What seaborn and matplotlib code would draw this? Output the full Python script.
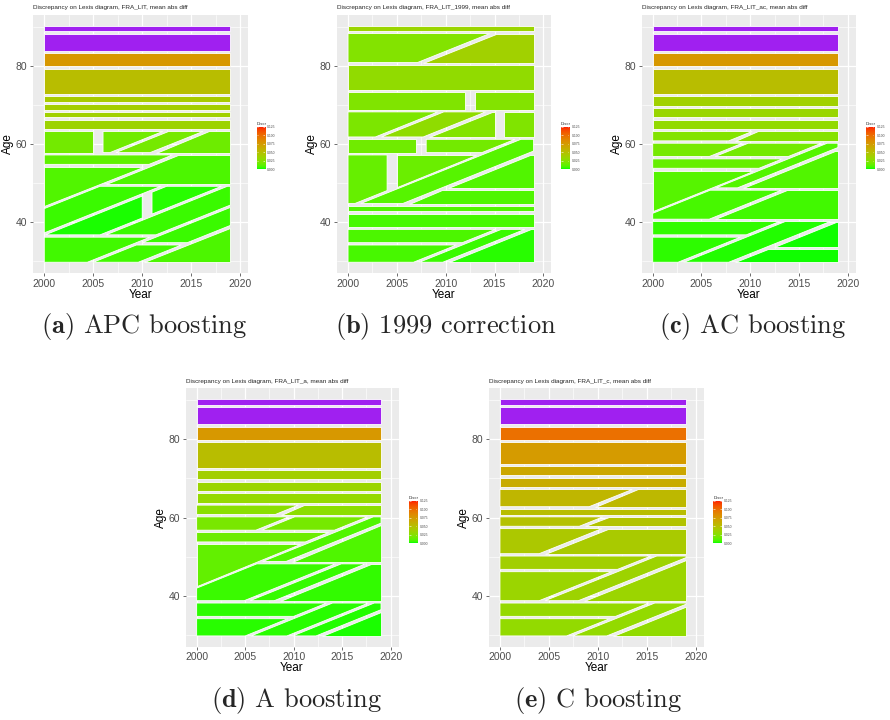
import numpy as np
import seaborn as sns
import matplotlib.pyplot as plt
from matplotlib.colors import ListedColormap, to_rgb

# Lexis regions of each model: (age_lo, age_hi, year_lo, year_hi, cohort_lo, cohort_hi, discr)
# ages and years are inclusive integer cells, cohorts are the split lines, None = open
apc = [
    (89, 90, None, None, None, None, 0.20),
    (84, 88, None, None, None, None, 0.16),
    (80, 83, None, None, None, None, 0.075),
    (73, 79, None, None, None, None, 0.050),
    (71, 72, None, None, None, None, 0.040),
    (69, 70, None, None, None, None, 0.038),
    (67, 68, None, None, None, None, 0.036),
    (64, 66, None, None, None, None, 0.034),
    (58, 63, None, 2005, None, None, 0.017),
    (58, 63, 2006, None, None, 1949.2, 0.016),
    (58, 63, 2006, None, 1949.2, 1953.3, 0.018),
    (58, 63, 2006, None, 1953.3, None, 0.015),
    (55, 57, None, None, None, 1956.2, 0.011),
    (30, 54, None, None, None, 1956.2, 0.008),
    (50, 57, None, None, 1956.2, None, 0.007),
    (37, 49, None, None, 1956.2, 1963.0, 0.004),
    (37, 49, None, 2010, 1963.0, 1969.2, 0.001),
    (37, 49, 2011, None, 1963.0, 1969.2, 0.002),
    (37, 49, None, None, 1969.2, 1974.9, 0.004),
    (30, 36, None, None, None, 1974.9, 0.005),
    (35, 49, None, None, 1974.9, 1980.1, 0.004),
    (30, 34, None, None, 1974.9, 1980.1, 0.005),
    (30, 49, None, None, 1980.1, None, 0.007),
]

corr1999 = [
    (89, 90, None, None, None, None, 0.033),
    (81, 88, None, None, None, 1926.6, 0.022),
    (81, 88, None, None, 1926.6, None, 0.036),
    (74, 80, None, None, None, None, 0.028),
    (69, 73, None, 2012, None, None, 0.021),
    (69, 73, 2013, None, None, None, 0.022),
    (62, 68, None, 2015, None, 1941.3, 0.020),
    (62, 68, None, 2015, 1941.3, 1946.2, 0.027),
    (62, 68, None, 2015, 1946.2, None, 0.022),
    (62, 68, 2016, None, None, None, 0.021),
    (58, 61, None, 2007, None, None, 0.016),
    (58, 61, 2008, None, None, 1956.2, 0.017),
    (45, 57, None, 2004, None, 1956.2, 0.013),
    (45, 57, 2005, None, None, 1956.2, 0.014),
    (45, 61, None, None, 1956.2, 1961.1, 0.009),
    (49, 57, None, None, 1961.1, None, 0.008),
    (45, 48, None, None, 1961.1, None, 0.0075),
    (43, 44, None, None, None, None, 0.008),
    (39, 42, None, None, None, None, 0.006),
    (35, 38, None, None, None, 1977.2, 0.007),
    (30, 34, None, None, None, 1977.2, 0.006),
    (30, 38, None, None, 1977.2, 1980.2, 0.004),
    (30, 38, None, None, 1980.2, None, 0.002),
]

ac = [
    (89, 90, None, None, None, None, 0.20),
    (84, 88, None, None, None, None, 0.16),
    (80, 83, None, None, None, None, 0.075),
    (73, 79, None, None, None, None, 0.050),
    (70, 72, None, None, None, None, 0.036),
    (67, 69, None, None, None, None, 0.032),
    (64, 66, None, None, None, None, 0.029),
    (61, 63, None, None, None, 1947.3, 0.022),
    (61, 63, None, None, 1947.3, None, 0.023),
    (57, 60, None, None, None, 1949.3, 0.018),
    (57, 60, None, None, 1949.3, 1957.4, 0.017),
    (54, 56, None, None, None, 1957.4, 0.013),
    (30, 53, None, None, None, 1957.4, 0.009),
    (49, 60, None, None, 1957.4, 1960.2, 0.0085),
    (49, 58, None, None, 1960.2, None, 0.008),
    (41, 48, None, None, 1957.4, 1965.3, 0.006),
    (41, 48, None, None, 1965.3, None, 0.005),
    (37, 40, None, None, None, 1973.1, 0.003),
    (30, 36, None, None, None, 1973.1, 0.0025),
    (30, 40, None, None, 1973.1, 1978.3, 0.0015),
    (34, 40, None, None, 1978.3, None, 0.0008),
    (30, 33, None, None, 1978.3, None, 0.0005),
]

a_only = [
    (89, 90, None, None, None, None, 0.20),
    (84, 88, None, None, None, None, 0.16),
    (80, 83, None, None, None, None, 0.075),
    (73, 79, None, None, None, None, 0.050),
    (70, 72, None, None, None, None, 0.037),
    (67, 69, None, None, None, None, 0.033),
    (64, 66, None, None, None, None, 0.030),
    (61, 63, None, None, None, 1947.6, 0.025),
    (61, 63, None, None, 1947.6, None, 0.026),
    (57, 60, None, None, None, 1949.6, 0.019),
    (57, 60, None, None, 1949.6, 1957.7, 0.018),
    (54, 56, None, None, None, 1957.7, 0.015),
    (30, 53, None, None, None, 1957.7, 0.012),
    (49, 60, None, None, 1957.7, 1960.7, 0.008),
    (49, 58, None, None, 1960.7, None, 0.0075),
    (39, 48, None, None, 1957.7, 1966.4, 0.004),
    (39, 48, None, None, 1966.4, 1969.5, 0.0035),
    (39, 48, None, None, 1969.5, None, 0.003),
    (35, 38, None, None, None, 1975.5, 0.0028),
    (30, 34, None, None, None, 1975.5, 0.0022),
    (30, 38, None, None, 1975.5, 1979.8, 0.002),
    (30, 38, None, None, 1979.8, 1982.8, 0.0015),
    (30, 38, None, None, 1982.8, None, 0.001),
]

c_only = [
    (89, 90, None, None, None, None, 0.20),
    (84, 88, None, None, None, None, 0.16),
    (80, 83, None, None, None, None, 0.097),
    (74, 79, None, None, None, None, 0.073),
    (71, 73, None, None, None, None, 0.065),
    (68, 70, None, None, None, None, 0.062),
    (63, 67, None, None, None, 1946.6, 0.055),
    (63, 67, None, None, 1946.6, None, 0.054),
    (61, 62, None, None, None, None, 0.050),
    (58, 60, None, None, None, 1950.6, 0.047),
    (58, 60, None, None, 1950.6, None, 0.046),
    (51, 57, None, None, None, 1953.5, 0.042),
    (51, 57, None, None, 1953.5, None, 0.041),
    (47, 50, None, None, None, 1965.5, 0.037),
    (39, 46, None, None, None, 1965.5, 0.033),
    (39, 50, None, None, 1965.5, 1969.5, 0.034),
    (39, 49, None, None, 1969.5, None, 0.033),
    (35, 38, None, None, None, 1977.3, 0.030),
    (30, 34, None, None, None, 1977.3, 0.029),
    (30, 38, None, None, 1977.3, 1981.4, 0.029),
    (30, 37, None, None, 1981.4, None, 0.028),
]

datasets = ["FRA_LIT", "FRA_LIT_1999", "FRA_LIT_ac", "FRA_LIT_a", "FRA_LIT_c"]
captions = ["APC boosting", "1999 correction", "AC boosting", "A boosting", "C boosting"]
letters = ["a", "b", "c", "d", "e"]
breaks = [0.0, 0.025, 0.05, 0.075, 0.1, 0.125]

# ggplot-like grey theme
sns.set_theme(style="darkgrid", rc={"axes.facecolor": "#EBEBEB", "grid.color": "white"})
plt.rcParams['font.family'] = ['Liberation Sans', 'DejaVu Sans']
plt.rcParams['mathtext.fontset'] = 'cm'

# green -> red gradient interpolated in CIELAB (like scale_fill_gradient)
M = np.array([[0.4124, 0.3576, 0.1805], [0.2126, 0.7152, 0.0722], [0.0193, 0.1192, 0.9505]])
WHITE = np.array([0.95047, 1.0, 1.08883])


def to_lab(col):
    c = np.array(to_rgb(col))
    lin = np.where(c > 0.04045, ((c + 0.055) / 1.055) ** 2.4, c / 12.92)
    xyz = M @ lin / WHITE
    f = np.where(xyz > 216 / 24389, np.cbrt(xyz), (24389 / 27 * xyz + 16) / 116)
    return np.array([116 * f[1] - 16, 500 * (f[0] - f[1]), 200 * (f[1] - f[2])])


def from_lab(lab):
    fy = (lab[0] + 16) / 116
    f = np.array([fy + lab[1] / 500, fy, fy - lab[2] / 200])
    xyz = np.where(f ** 3 > 216 / 24389, f ** 3, (116 * f - 16) / (24389 / 27)) * WHITE
    lin = np.clip(np.linalg.solve(M, xyz), 0, 1)
    rgb = np.where(lin > 0.0031308, 1.055 * lin ** (1 / 2.4) - 0.055, 12.92 * lin)
    return np.clip(rgb, 0, 1)


lo, hi = to_lab("#00FF00"), to_lab("#FF0000")
cmap = ListedColormap([from_lab(lo + t * (hi - lo)) for t in np.linspace(0, 1, 256)])


def clip(pts, f):
    # keep the part of the polygon where f >= 0
    out = []
    for i in range(len(pts)):
        p, q = pts[i], pts[(i + 1) % len(pts)]
        fp, fq = f(p), f(q)
        if fp >= 0:
            out.append(p)
        if fp * fq < 0:
            t = fp / (fp - fq)
            out.append((p[0] + t * (q[0] - p[0]), p[1] + t * (q[1] - p[1])))
    return out


def region_poly(a0, a1, y0, y1, c0, c1):
    a0 = (30 if a0 is None else a0) - 0.2
    a1 = (90 if a1 is None else a1) + 0.2
    y0 = 2000 if y0 is None else y0
    y1 = 2019 if y1 is None else y1
    pts = [(y0, a0), (y1, a0), (y1, a1), (y0, a1)]
    if c0 is not None:
        pts = clip(pts, lambda p: (p[0] - p[1]) - (c0 + 0.3))
    if c1 is not None:
        pts = clip(pts, lambda p: (c1 - 0.3) - (p[0] - p[1]))
    return pts


fig = plt.figure(figsize=(8.9, 7.2), dpi=100)


def px_axes(l, r, t, b):
    return fig.add_axes([l / 890, 1 - b / 720, (r - l) / 890, (b - t) / 720])


panel_px = [(33, 248, 14.8, 273.2), (336.8, 551.2, 14.8, 273.2), (641.5, 855.5, 14.8, 273.2),
            (185.5, 398.5, 388.4, 646.9), (488.7, 703.8, 388.4, 646.9)]
bar_px = [(256.7, 265, 126.7, 169.3), (561, 569.3, 126.7, 169.3), (866, 874.3, 126.7, 169.3),
          (409, 417.3, 501, 543.3), (713.3, 721.7, 501, 543.3)]
cap_px = [(144, 327), (446, 327), (753, 327), (296, 700), (598, 700)]

for i, regions in enumerate([apc, corr1999, ac, a_only, c_only]):
    ax = px_axes(*panel_px[i])
    for a0, a1, y0, y1, c0, c1, v in regions:
        pts = region_poly(a0, a1, y0, y1, c0, c1)
        col = "#A020F0" if v > 0.125 else cmap(v / 0.125)
        xs, ys = zip(*pts)
        ax.fill(xs, ys, facecolor=col, edgecolor="white", lw=0.6, zorder=2)

    ax.set_xlim(1998.85, 2020.8)
    ax.set_ylim(27, 93)
    ax.set_xticks([2000, 2005, 2010, 2015, 2020])
    ax.set_yticks([40, 60, 80])
    ax.set_xticks([2002.5, 2007.5, 2012.5, 2017.5], minor=True)
    ax.set_yticks([30, 50, 70, 90], minor=True)
    ax.grid(which="major", color="white", lw=0.9)
    ax.grid(which="minor", color="white", lw=0.45)
    ax.set_axisbelow(True)
    for s in ax.spines.values():
        s.set_visible(False)
    ax.tick_params(which="major", bottom=True, left=True, length=2.5, width=0.5,
                   color="#333333", labelsize=7.5, labelcolor="#4D4D4D", pad=1.5)
    ax.tick_params(which="minor", length=0)
    ax.set_xlabel("Year", fontsize=8.5, labelpad=0, color="black")
    ax.set_ylabel("Age", fontsize=8.5, labelpad=1, color="black")
    ax.set_title("Discrepancy on Lexis diagram, " + datasets[i] + ", mean abs diff",
                 loc="left", fontsize=4.6, pad=4)

    # colour bar legend
    cax = px_axes(*bar_px[i])
    grad = np.linspace(0, 0.125, 200).reshape(-1, 1)
    cax.imshow(grad, cmap=cmap, origin="lower", aspect="auto", extent=(0, 1, 0, 0.125))
    cax.hlines(breaks, 0, 0.2, color="white", lw=0.4)
    cax.hlines(breaks, 0.8, 1, color="white", lw=0.4)
    cax.set_xlim(0, 1)
    cax.set_ylim(0, 0.125)
    cax.set_xticks([])
    cax.yaxis.tick_right()
    cax.set_yticks(breaks)
    cax.set_yticklabels(["%.3f" % b for b in breaks])
    cax.tick_params(axis="y", length=0, labelsize=2.4, labelcolor="#4D4D4D", pad=1.5, right=False)
    cax.grid(False)
    for s in cax.spines.values():
        s.set_visible(False)
    cax.set_title("Discr", fontsize=3.2, loc="left", pad=1.5)

    fig.text(cap_px[i][0] / 890, 1 - cap_px[i][1] / 720,
             r"$\mathbf{(" + letters[i] + ")}$ " + captions[i],
             family="cmr10", fontsize=19, ha="center", va="center")

fig.savefig("out.png", dpi=100, facecolor="white")
